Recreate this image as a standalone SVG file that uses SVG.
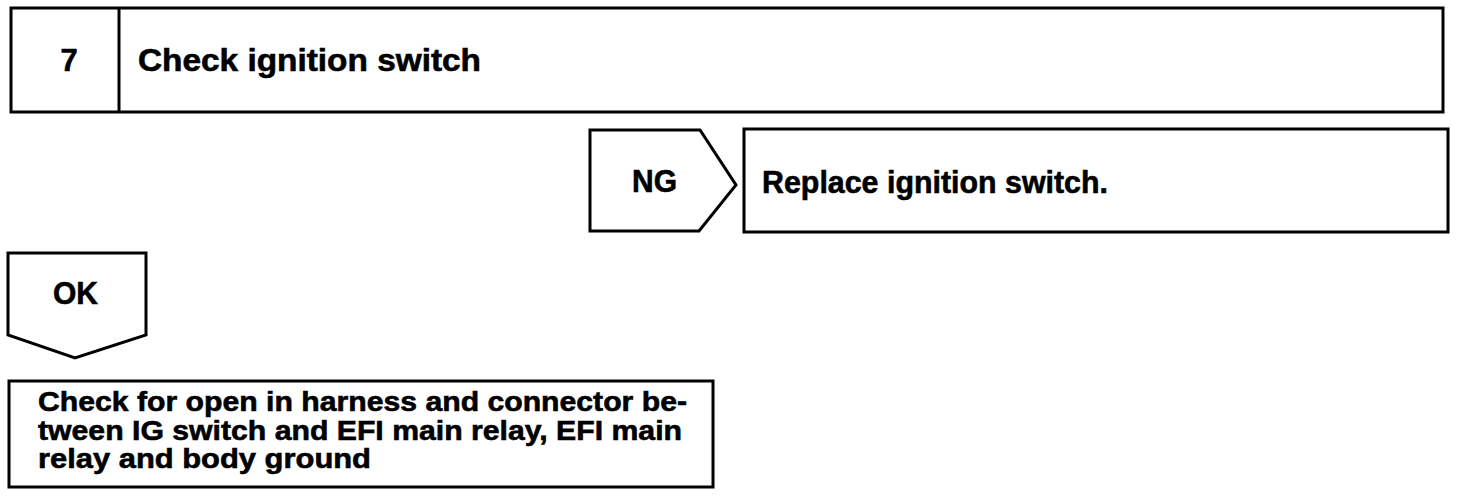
<svg xmlns="http://www.w3.org/2000/svg" width="1472" height="496" viewBox="0 0 1472 496">
<style>
.b{fill:#fff;stroke:#000;stroke-width:3;stroke-linejoin:miter}
.t{font-family:"Liberation Sans",Arial,Helvetica,sans-serif;font-weight:bold;fill:#000;stroke:#000;stroke-width:0.6}
.l{font-size:31px}
.s{font-size:28px}
</style>
<rect width="1472" height="496" fill="#fff"/>
<g id="step7">
<rect class="b" x="11" y="8" width="1432" height="104"/>
<line x1="119" y1="8" x2="119" y2="112" stroke="#000" stroke-width="3"/>
<text class="t l" x="69" y="71" text-anchor="middle">7</text>
<text class="t l" x="138" y="71" textLength="343" lengthAdjust="spacingAndGlyphs">Check ignition switch</text>
</g>
<g id="ng">
<polygon class="b" points="590,130 700,130 736,185 699,231 590,231"/>
<text class="t l" x="632" y="192" textLength="45" lengthAdjust="spacingAndGlyphs">NG</text>
</g>
<g id="replace">
<rect class="b" x="744" y="129" width="704" height="103"/>
<text class="t l" x="762" y="193" textLength="346" lengthAdjust="spacingAndGlyphs">Replace ignition switch.</text>
</g>
<g id="ok">
<polygon class="b" points="8,253 146,253 146,335 75,358 8,335"/>
<text class="t l" x="53" y="304" textLength="45" lengthAdjust="spacingAndGlyphs">OK</text>
</g>
<g id="check">
<rect class="b" x="9" y="381" width="704" height="106"/>
<text class="t s" x="38" y="411" textLength="649" lengthAdjust="spacingAndGlyphs">Check for open in harness and connector be-</text>
<text class="t s" x="38" y="440" textLength="644" lengthAdjust="spacingAndGlyphs">tween IG switch and EFI main relay, EFI main</text>
<text class="t s" x="38" y="468" textLength="333" lengthAdjust="spacingAndGlyphs">relay and body ground</text>
</g>
<g id="connectors"></g>
</svg>
